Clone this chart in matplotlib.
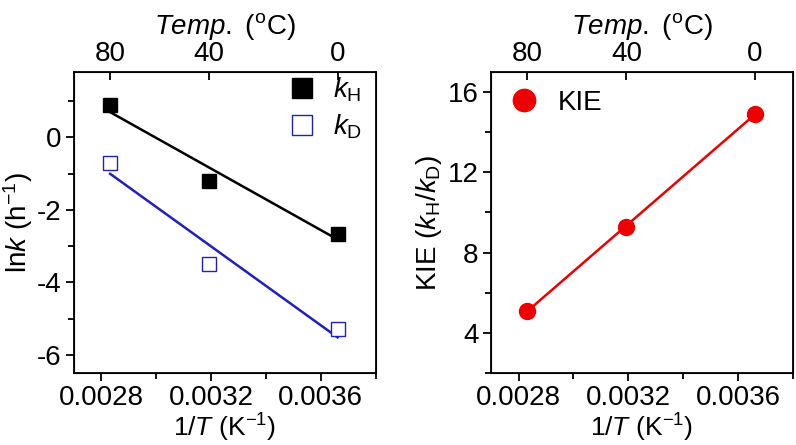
import numpy as np
import matplotlib
matplotlib.use('Agg')
import matplotlib.pyplot as plt
from matplotlib.ticker import MultipleLocator

plt.rcParams['font.family'] = ['Liberation Sans', 'DejaVu Sans']
plt.rcParams['mathtext.fontset'] = 'custom'
plt.rcParams['mathtext.rm'] = 'Liberation Sans'
plt.rcParams['mathtext.it'] = 'Liberation Sans:italic'
plt.rcParams['font.size'] = 20
plt.rcParams['axes.unicode_minus'] = False

# data
tempC = [80, 40, 0]
lnkH = [0.9, -1.2, -2.66]
lnkD = [-0.71, -3.5, -5.29]
kie = [5.1, 9.3, 14.9]
topTicks = [80, 40, 0]

invT = [1.0 / (t + 273.15) for t in tempC]

fig = plt.figure(figsize=(7.96, 4.45), dpi=100)
ax1 = fig.add_axes([0.093, 0.162, 0.379, 0.676])
ax2 = fig.add_axes([0.617, 0.162, 0.379, 0.676])

blue = '#2020c0'
red = '#ee0000'

# left panel
xs = np.array(invT)
pH = np.polyfit(xs, lnkH, 1)
pD = np.polyfit(xs, lnkD, 1)
ax1.plot(xs, np.polyval(pH, xs), color='black', lw=1.8, zorder=1)
ax1.plot(xs, np.polyval(pD, xs), color=blue, lw=1.8, zorder=1)
ax1.plot(invT, lnkH, 's', color='black', ms=10.5, ls='none', label=r'$\mathit{k}_\mathrm{H}$', zorder=3)
ax1.plot(invT, lnkD, 's', mfc='white', mec=blue, mew=1.0, ms=10.5, ls='none', label=r'$\mathit{k}_\mathrm{D}$', zorder=3)
ax1.set_ylim(-6.5, 1.8)
ax1.yaxis.set_major_locator(MultipleLocator(2))
ax1.yaxis.set_minor_locator(MultipleLocator(1))
ax1.set_ylabel(r'ln$\mathit{k}$ (h$^{-1}$)', labelpad=1)
ax1.legend(loc='upper right', bbox_to_anchor=(1.0, 1.035), frameon=False, markerscale=1.4,
           handletextpad=0.5, borderaxespad=0.1, labelspacing=0.3, handlelength=1.2)

# right panel
pK = np.polyfit(xs, kie, 1)
ax2.plot(xs, np.polyval(pK, xs), color=red, lw=1.8, zorder=1)
ax2.plot(invT, kie, 'o', color=red, ms=11.5, ls='none', label='KIE', zorder=3)
ax2.set_ylim(2, 17)
ax2.yaxis.set_major_locator(MultipleLocator(4))
ax2.yaxis.set_minor_locator(MultipleLocator(2))
ax2.set_ylabel(r'KIE ($\mathit{k}_\mathrm{H}$/$\mathit{k}_\mathrm{D}$)', labelpad=3)
ax2.legend(loc='upper left', bbox_to_anchor=(-0.01, 1.015), frameon=False, markerscale=1.4,
           handletextpad=0.7, borderaxespad=0.4, handlelength=1.0)

for ax in (ax1, ax2):
    ax.set_xlim(0.0027, 0.0038)
    ax.set_xticks([0.0028, 0.0032, 0.0036])
    ax.set_xticklabels(['0.0028', '0.0032', '0.0036'])
    ax.xaxis.set_minor_locator(MultipleLocator(0.0002))
    ax.set_xlabel(r'1/$\mathit{T}$ (K$^{-1}$)', fontsize=19, labelpad=0)
    ax.tick_params(which='both', direction='out', top=False, right=False, width=1.3, pad=3)
    ax.tick_params(which='major', length=6)
    ax.tick_params(which='minor', length=4)
    for s in ax.spines.values():
        s.set_linewidth(1.3)

    top = ax.twiny()
    top.set_xlim(ax.get_xlim())
    top.set_xticks([1.0 / (t + 273.15) for t in topTicks])
    top.set_xticklabels([str(t) for t in topTicks])
    top.tick_params(direction='in', length=6, width=1.3, pad=4)
    top.set_xlabel(r'$\mathit{Temp.}$ ($^\mathrm{o}$C)', labelpad=5)

fig.savefig('out.png', dpi=100)
